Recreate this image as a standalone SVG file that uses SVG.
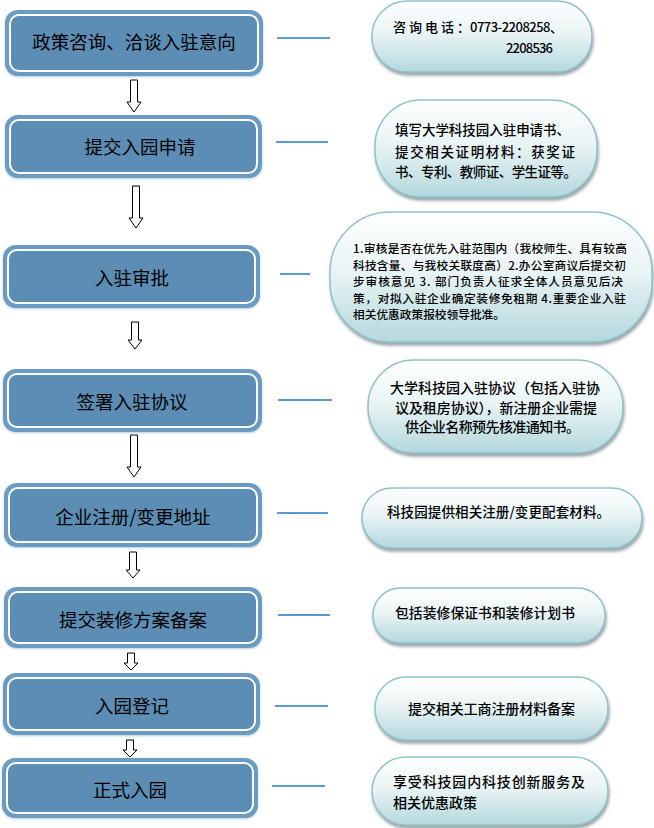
<svg xmlns="http://www.w3.org/2000/svg" width="654" height="828" viewBox="0 0 654 828">
<defs>
<linearGradient id="bub" x1="0" y1="0" x2="0" y2="1">
<stop offset="0" stop-color="#ffffff"/>
<stop offset="0.45" stop-color="#eaf4f5"/>
<stop offset="1" stop-color="#b4d8dd"/>
</linearGradient>
<filter id="sh" x="-10%" y="-10%" width="120%" height="130%">
<feDropShadow dx="1" dy="3" stdDeviation="1.5" flood-color="#6f7f82" flood-opacity="0.7"/>
</filter>
<filter id="bsh" x="-5%" y="-10%" width="110%" height="125%">
<feDropShadow dx="0" dy="1" stdDeviation="1" flood-color="#8aa6bd" flood-opacity="0.6"/>
</filter>
</defs>
<style>
.outer{fill:#6a9cc3;filter:url(#bsh);}
.inner{fill:#5b8db5;stroke:#ffffff;stroke-width:2;}
.bt{font-family:"Noto Sans CJK SC","Noto Sans",sans-serif;font-size:18.5px;fill:#000;text-anchor:middle;}
.bub{fill:url(#bub);stroke:#8fc3cb;stroke-width:1.5;filter:url(#sh);}
.t{font-family:"Noto Sans CJK SC","Noto Sans",sans-serif;font-weight:500;fill:#000;}
.ln{stroke:#5b9bd5;stroke-width:2;fill:none;}
.ar{fill:#ffffff;stroke:#000;stroke-width:1;}
</style>
<rect width="654" height="828" fill="#ffffff"/>

<g id="connectors">
<line class="ln" x1="277" y1="38" x2="330" y2="38"/>
<line class="ln" x1="276" y1="142" x2="328" y2="142"/>
<line class="ln" x1="280" y1="274" x2="310" y2="274"/>
<line class="ln" x1="278" y1="400" x2="332" y2="400"/>
<line class="ln" x1="277" y1="513" x2="328" y2="513"/>
<line class="ln" x1="278" y1="615" x2="330" y2="615"/>
<line class="ln" x1="275" y1="706" x2="328" y2="706"/>
<line class="ln" x1="272" y1="786" x2="325" y2="786"/>
<path class="ar" d="M130.5 80 h7 V102 h3.5 L134 112 L127 102 h3.5 Z"/>
<path class="ar" d="M132.5 186 h7 V218 h3.5 L136 228 L129 218 h3.5 Z"/>
<path class="ar" d="M131.5 322 h7 V340 h3.5 L135 349 L128 340 h3.5 Z"/>
<path class="ar" d="M130.5 435 h7 V467 h3.5 L134 477 L127 467 h3.5 Z"/>
<path class="ar" d="M129.5 552 h7 V570 h3.5 L133 578 L126 570 h3.5 Z"/>
<path class="ar" d="M127.5 653 h7 V663 h3.5 L131 670 L124 663 h3.5 Z"/>
<path class="ar" d="M126.5 740 h7 V750 h3.5 L130 757 L123 750 h3.5 Z"/>
</g>

<g id="step1">
<rect class="outer" x="5" y="10" width="258" height="66" rx="13"/>
<rect class="inner" x="10" y="15" width="248" height="56" rx="9"/>
<text class="bt" x="134" y="49">政策咨询、洽谈入驻意向</text>
</g>
<g id="step2">
<rect class="outer" x="5" y="115" width="257" height="63" rx="13"/>
<rect class="inner" x="10" y="120" width="247" height="53" rx="9"/>
<text class="bt" x="140" y="154">提交入园申请</text>
</g>
<g id="step3">
<rect class="outer" x="3" y="245" width="257" height="63" rx="13"/>
<rect class="inner" x="8" y="250" width="247" height="53" rx="9"/>
<text class="bt" x="132" y="285">入驻审批</text>
</g>
<g id="step4">
<rect class="outer" x="3" y="369" width="259" height="63" rx="13"/>
<rect class="inner" x="8" y="374" width="249" height="53" rx="9"/>
<text class="bt" x="132" y="409">签署入驻协议</text>
</g>
<g id="step5">
<rect class="outer" x="4" y="483" width="258" height="64" rx="13"/>
<rect class="inner" x="9" y="488" width="248" height="54" rx="9"/>
<text class="bt" x="133" y="524">企业注册/变更地址</text>
</g>
<g id="step6">
<rect class="outer" x="4" y="587" width="258" height="61" rx="13"/>
<rect class="inner" x="9" y="592" width="248" height="51" rx="9"/>
<text class="bt" x="133" y="627">提交装修方案备案</text>
</g>
<g id="step7">
<rect class="outer" x="3" y="673" width="257" height="62" rx="13"/>
<rect class="inner" x="8" y="678" width="247" height="52" rx="9"/>
<text class="bt" x="132" y="713">入园登记</text>
</g>
<g id="step8">
<rect class="outer" x="2" y="758" width="256" height="60" rx="13"/>
<rect class="inner" x="7" y="763" width="246" height="50" rx="9"/>
<text class="bt" x="130" y="797">正式入园</text>
</g>

<g id="note1">
<rect class="bub" x="372" y="1" width="220" height="71" rx="35"/>
<text class="t" x="393" y="32" font-size="13" textLength="77">咨询电话：</text>
<text class="t" x="470" y="32" font-size="13" textLength="93">0773-2208258、</text>
<text class="t" x="506" y="53" font-size="13" textLength="47">2208536</text>
</g>
<g id="note2">
<rect class="bub" x="375" y="100" width="222" height="97" rx="46"/>
<text class="t" x="395" y="135" font-size="13.5" textLength="175">填写大学科技园入驻申请书、</text>
<text class="t" x="395" y="157" font-size="13.5" textLength="180">提交相关证明材料：获奖证</text>
<text class="t" x="395" y="177" font-size="13.5" textLength="182">书、专利、教师证、学生证等。</text>
</g>
<g id="note3">
<rect class="bub" x="330" y="212" width="322" height="130" rx="60"/>
<text class="t" x="353" y="253" font-size="11.7" textLength="274">1.审核是否在优先入驻范围内（我校师生、具有较高</text>
<text class="t" x="353" y="270" font-size="11.7" textLength="273">科技含量、与我校关联度高）2.办公室商议后提交初</text>
<text class="t" x="353" y="286" font-size="11.7" textLength="270">步审核意见 3.  部门负责人征求全体人员意见后决</text>
<text class="t" x="353" y="303" font-size="11.7" textLength="273">策，对拟入驻企业确定装修免租期 4.重要企业入驻</text>
<text class="t" x="353" y="319" font-size="11.7" textLength="152">相关优惠政策报校领导批准。</text>
</g>
<g id="note4">
<rect class="bub" x="368" y="360" width="255" height="93" rx="46"/>
<text class="t" x="390" y="393" font-size="14" textLength="210">大学科技园入驻协议（包括入驻协</text>
<text class="t" x="395" y="413" font-size="14" textLength="202">议及租房协议），新注册企业需提</text>
<text class="t" x="405" y="432" font-size="14" textLength="175">供企业名称预先核准通知书。</text>
</g>
<g id="note5">
<rect class="bub" x="362" y="488" width="280" height="60" rx="30"/>
<text class="t" x="387" y="517" font-size="13.5" textLength="223">科技园提供相关注册/变更配套材料。</text>
</g>
<g id="note6">
<rect class="bub" x="373" y="588" width="232" height="55" rx="27"/>
<text class="t" x="395" y="618" font-size="13.8" textLength="180">包括装修保证书和装修计划书</text>
</g>
<g id="note7">
<rect class="bub" x="375" y="677" width="233" height="63" rx="31"/>
<text class="t" x="408" y="714" font-size="14" textLength="167">提交相关工商注册材料备案</text>
</g>
<g id="note8">
<rect class="bub" x="372" y="757" width="236" height="68" rx="34"/>
<text class="t" x="393" y="787" font-size="14" textLength="192">享受科技园内科技创新服务及</text>
<text class="t" x="393" y="808" font-size="14" textLength="84">相关优惠政策</text>
</g>
</svg>
